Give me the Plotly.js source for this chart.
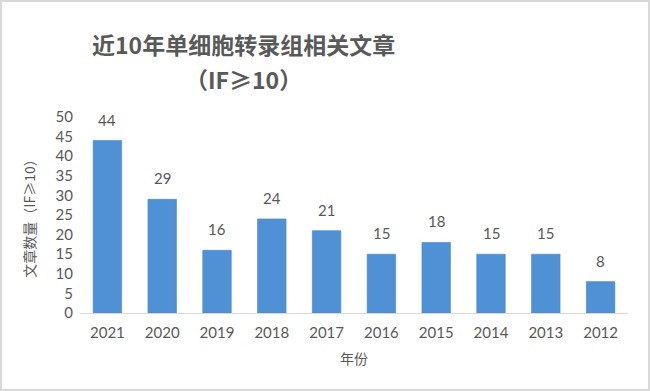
<!DOCTYPE html>
<html>
<head>
<meta charset="utf-8">
<script src="https://cdn.plot.ly/plotly-3.0.1.min.js"></script>
<style>
html,body{margin:0;padding:0;background:#fff;}
#chart{width:650px;height:391px;box-sizing:border-box;border:2px solid #d9d9d9;}
</style>
</head>
<body>
<div id="chart"></div>
<script>
const years = ['2021','2020','2019','2018','2017','2016','2015','2014','2013','2012'];
const counts = [44, 29, 16, 24, 21, 15, 18, 15, 15, 8];
const yTicks = [0,5,10,15,20,25,30,35,40,45,50];
const titleLines = ['近10年单细胞转录组相关文章', '（IF≥10）'];

const font = "Lato, 'Noto Sans CJK SC', sans-serif";
const cjk = "'Noto Sans CJK SC', sans-serif";
const grey = '#595959';

const trace = {
  type: 'bar',
  x: years,
  y: counts,
  marker: {color: '#5091d5', line: {color: '#4586cb', width: 0.6}},
  hoverinfo: 'x+y'
};

// category index positions for annotations
const labelAnns = years.map((yr, i) => ({
  x: i, y: counts[i], xref: 'x', yref: 'y',
  text: String(counts[i]), showarrow: false,
  yanchor: 'bottom', yshift: 10,
  font: {family: font, size: 15, color: grey}
}));

const titleAnns = [
  {text: '<b>' + titleLines[0] + '</b>', y: 1.375},
  {text: '<b>' + titleLines[1] + '</b>', y: 1.192}
].map(t => ({
  text: t.text, xref: 'paper', yref: 'paper', x: 0.298, y: t.y,
  xanchor: 'center', yanchor: 'middle', showarrow: false,
  font: {family: cjk, size: 23, color: grey}
}));

const layout = {
  width: 646, height: 387,
  margin: {l: 78, r: 20, t: 115, b: 76},
  paper_bgcolor: '#fff',
  plot_bgcolor: '#fff',
  bargap: 0.48,
  showlegend: false,
  font: {family: font, color: grey},
  annotations: labelAnns.concat(titleAnns),
  xaxis: {
    type: 'category',
    categoryarray: years, categoryorder: 'array',
    range: [-0.5, years.length - 0.5],
    showline: true, linecolor: '#d9d9d9', linewidth: 1,
    ticks: 'outside', ticklen: 6, tickcolor: 'rgba(0,0,0,0)', showgrid: false,
    tickfont: {family: font, size: 15, color: grey},
    title: {text: '年份', font: {family: cjk, size: 14, color: grey}, standoff: 14},
    automargin: false
  },
  yaxis: {
    range: [0, 50],
    tickvals: yTicks,
    showgrid: false, zeroline: false, showline: false, ticks: '',
    tickfont: {family: font, size: 15, color: grey},
    ticklabelstandoff: 6,
    title: {text: '文章数量（IF≥10）', font: {family: cjk, size: 14, color: grey}, standoff: 16},
    automargin: false
  }
};

Plotly.newPlot('chart', [trace], layout, {displayModeBar: false, staticPlot: true});
</script>
</body>
</html>
